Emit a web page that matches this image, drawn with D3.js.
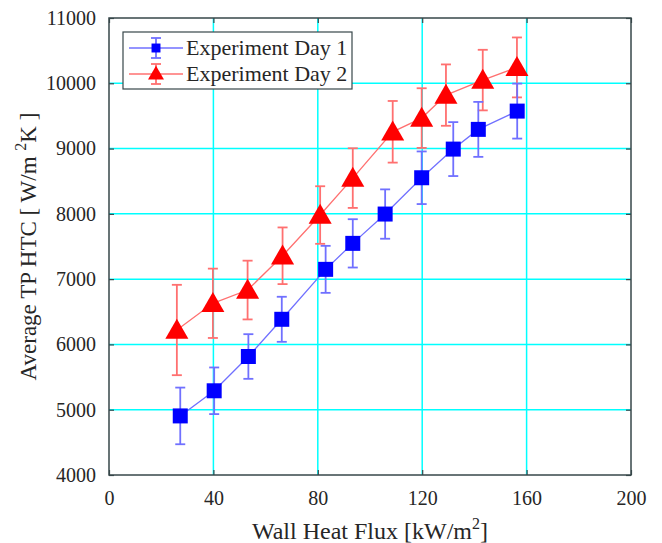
<!DOCTYPE html>
<html>
<head>
<meta charset="utf-8">
<script src="https://cdn.jsdelivr.net/npm/d3@7"></script>
<style>
  body { margin: 0; background: #fff; }
  svg text { font-family: "Liberation Serif", "DejaVu Serif", serif; fill: #262626; }
</style>
</head>
<body>
<svg id="chart" width="662" height="543"></svg>
<script>
// wall heat flux [kW/m2], HTC and +/- error for each day
var day1Flux = [27.3, 40.3, 53.4, 66.2, 83.0, 93.4, 105.8, 119.8, 131.9, 141.5, 156.4];
var day1Htc  = [4905, 5290, 5815, 6385, 7150, 7548, 7997, 8553, 8992, 9294, 9574];
var day1Err  = [434, 357, 342, 345, 360, 370, 378, 403, 413, 421, 421];

var day2Flux = [26.0, 39.8, 53.1, 66.5, 80.9, 93.4, 108.7, 119.8, 129.1, 143.2, 156.3];
var day2Htc  = [6221, 6630, 6833, 7358, 7982, 8548, 9257, 9467, 9819, 10049, 10243];
var day2Err  = [692, 531, 450, 434, 441, 457, 472, 457, 470, 464, 459];

var xTicks = [0, 40, 80, 120, 160, 200];
var yTicks = [4000, 5000, 6000, 7000, 8000, 9000, 10000, 11000];
var seriesNames = ['Experiment Day 1', 'Experiment Day 2'];

var margin = { left: 109, right: 31, top: 18, bottom: 68 };
var W = 662, H = 543;
var svg = d3.select('#chart');

var x = d3.scaleLinear().domain([0, 200]).range([margin.left, W - margin.right]);
var y = d3.scaleLinear().domain([4000, 11000]).range([H - margin.bottom, margin.top]);

var axisColor = '#37474a';

// grid
var grid = svg.append('g');
grid.selectAll('line.gx')
  .data(xTicks.slice(1, -1))
  .enter().append('line')
    .attr('x1', d => x(d)).attr('x2', d => x(d))
    .attr('y1', y.range()[0]).attr('y2', y.range()[1])
    .attr('stroke', '#00ffff').attr('stroke-width', 1.5);
grid.selectAll('line.gy')
  .data(yTicks.slice(1, -1))
  .enter().append('line')
    .attr('y1', d => y(d)).attr('y2', d => y(d))
    .attr('x1', x.range()[0]).attr('x2', x.range()[1])
    .attr('stroke', '#00ffff').attr('stroke-width', 1.5);

// axes (ticks inward, on all four sides)
function styleAxis(g) {
  g.select('.domain').remove();
  g.selectAll('.tick line').attr('stroke', axisColor).attr('stroke-width', 1.2);
  g.selectAll('.tick text').style('font-size', '20px').attr('fill', '#262626');
}
svg.append('g')
  .attr('transform', 'translate(0,' + y.range()[0] + ')')
  .call(d3.axisBottom(x).tickValues(xTicks).tickSize(-5).tickPadding(16))
  .call(styleAxis);
svg.append('g')
  .attr('transform', 'translate(0,' + y.range()[1] + ')')
  .call(d3.axisTop(x).tickValues(xTicks).tickSize(-5).tickFormat(''))
  .call(styleAxis);
svg.append('g')
  .attr('transform', 'translate(' + x.range()[0] + ',0)')
  .call(d3.axisLeft(y).tickValues(yTicks).tickSize(-5).tickPadding(13).tickFormat(d3.format('d')))
  .call(styleAxis);
svg.append('g')
  .attr('transform', 'translate(' + x.range()[1] + ',0)')
  .call(d3.axisRight(y).tickValues(yTicks).tickSize(-5).tickFormat(''))
  .call(styleAxis);

svg.append('rect')
  .attr('x', x.range()[0]).attr('y', y.range()[1])
  .attr('width', x.range()[1] - x.range()[0])
  .attr('height', y.range()[0] - y.range()[1])
  .attr('fill', 'none').attr('stroke', axisColor).attr('stroke-width', 1.5);

// series
var series = [
  { name: seriesNames[1], flux: day2Flux, htc: day2Htc, err: day2Err, color: '#ff0000', light: '#ff7070', shape: d3.symbolTriangle, size: 230 },
  { name: seriesNames[0], flux: day1Flux, htc: day1Htc, err: day1Err, color: '#0000ff', light: '#7070ff', shape: d3.symbolSquare, size: 225 }
];

var line = d3.line().x(d => x(d.f)).y(d => y(d.v));

series.forEach(s => {
  var pts = s.flux.map((f, i) => ({ f: f, v: s.htc[i], e: s.err[i] }));
  var g = svg.append('g');
  g.append('path')
    .datum(pts)
    .attr('d', line)
    .attr('fill', 'none')
    .attr('stroke', s.light)
    .attr('stroke-width', 1.3);
  var eb = g.selectAll('g.eb').data(pts).enter().append('g')
    .attr('stroke', s.light).attr('stroke-width', 1.8);
  eb.append('line')
    .attr('x1', d => x(d.f)).attr('x2', d => x(d.f))
    .attr('y1', d => y(d.v - d.e)).attr('y2', d => y(d.v + d.e));
  eb.append('line')
    .attr('x1', d => x(d.f) - 5).attr('x2', d => x(d.f) + 5)
    .attr('y1', d => y(d.v - d.e)).attr('y2', d => y(d.v - d.e));
  eb.append('line')
    .attr('x1', d => x(d.f) - 5).attr('x2', d => x(d.f) + 5)
    .attr('y1', d => y(d.v + d.e)).attr('y2', d => y(d.v + d.e));
  g.selectAll('path.mk').data(pts).enter().append('path')
    .attr('class', 'mk')
    .attr('transform', d => 'translate(' + x(d.f) + ',' + (y(d.v) + (s.shape === d3.symbolTriangle ? 2 : 0)) + ')')
    .attr('d', d3.symbol().type(s.shape).size(s.size))
    .attr('fill', s.color);
});

// legend
var leg = svg.append('g');
leg.append('rect')
  .attr('x', 123).attr('y', 32).attr('width', 229).attr('height', 57)
  .attr('fill', '#fff').attr('stroke', axisColor).attr('stroke-width', 1.2);
[series[1], series[0]].forEach((s, i) => {
  var cy = 48 + i * 26;
  var row = leg.append('g').attr('transform', 'translate(0,' + cy + ')');
  row.append('line').attr('x1', 129).attr('x2', 183).attr('y1', 0).attr('y2', 0)
    .attr('stroke', s.light).attr('stroke-width', 1.3);
  row.append('line').attr('x1', 156).attr('x2', 156).attr('y1', -10).attr('y2', 10)
    .attr('stroke', s.light).attr('stroke-width', 1.8);
  row.append('line').attr('x1', 151).attr('x2', 161).attr('y1', -10).attr('y2', -10)
    .attr('stroke', s.light).attr('stroke-width', 1.8);
  row.append('line').attr('x1', 151).attr('x2', 161).attr('y1', 10).attr('y2', 10)
    .attr('stroke', s.light).attr('stroke-width', 1.8);
  row.append('path')
    .attr('transform', 'translate(156,' + (s.shape === d3.symbolTriangle ? 1 : 0) + ')')
    .attr('d', d3.symbol().type(s.shape).size(s.shape === d3.symbolTriangle ? 110 : 80))
    .attr('fill', s.color);
  row.append('text').attr('x', 186).attr('y', 7)
    .style('font-size', '22px').text(s.name);
});

// axis labels
var xl = svg.append('text')
  .attr('x', (x.range()[0] + x.range()[1]) / 2).attr('y', 539)
  .attr('text-anchor', 'middle').style('font-size', '24px');
xl.append('tspan').text('Wall Heat Flux [kW/m');
xl.append('tspan').attr('dy', -10).style('font-size', '16px').text('2');
xl.append('tspan').attr('dy', 10).text(']');

var yl = svg.append('text')
  .attr('transform', 'translate(36,' + ((y.range()[0] + y.range()[1]) / 2) + ') rotate(-90)')
  .attr('text-anchor', 'middle').style('font-size', '23px');
yl.append('tspan').text('Average TP HTC [ W/m ');
yl.append('tspan').attr('dy', -10).style('font-size', '16px').text('2');
yl.append('tspan').attr('dy', 10).text('K ]');
</script>
</body>
</html>
